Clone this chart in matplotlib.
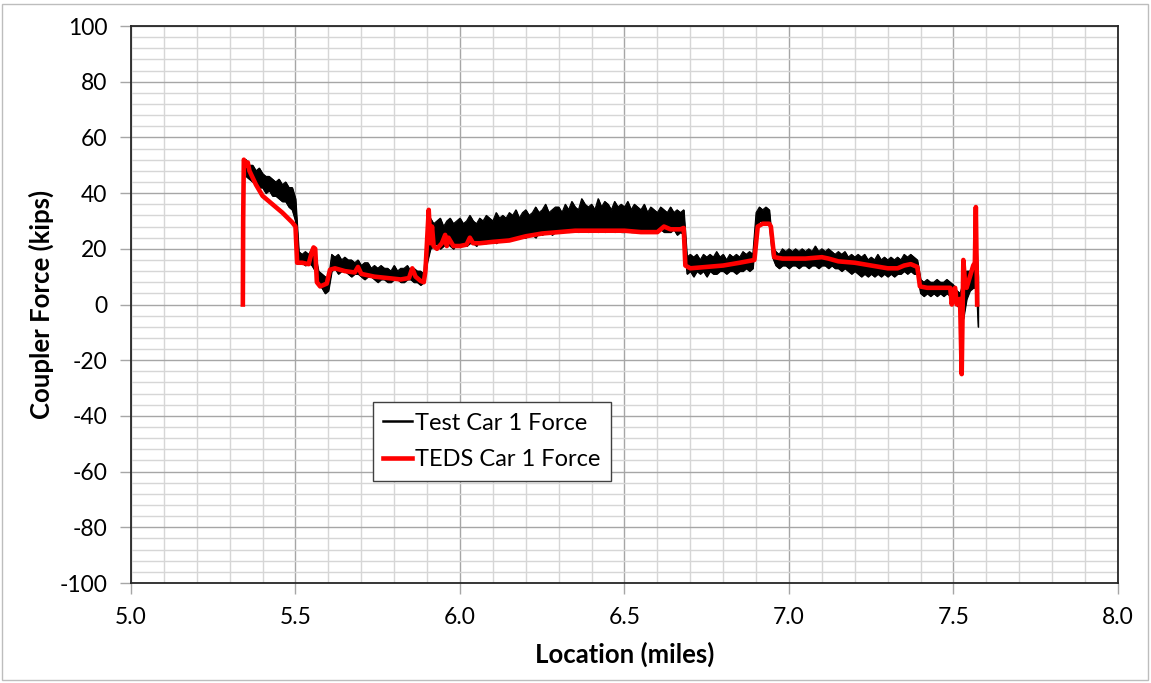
import numpy as np
import matplotlib
matplotlib.use('Agg')
import matplotlib.pyplot as plt
from matplotlib.patches import Rectangle
from matplotlib.lines import Line2D
from matplotlib.ticker import MultipleLocator

plt.rcParams['font.family'] = ['Lato', 'DejaVu Sans']
plt.rcParams['axes.unicode_minus'] = False

# Test car 1 force: noisy measured trace, kept as low/high envelope (kips)
test_loc = [5.35, 5.36, 5.37, 5.38, 5.39, 5.40, 5.41, 5.42, 5.43, 5.44,
            5.45, 5.46, 5.47, 5.48, 5.49, 5.50, 5.51, 5.52, 5.53, 5.54,
            5.55, 5.56, 5.57, 5.58, 5.59, 5.60, 5.61, 5.62, 5.63, 5.64,
            5.65, 5.66, 5.67, 5.68, 5.69, 5.70, 5.71, 5.72, 5.73, 5.74,
            5.75, 5.76, 5.77, 5.78, 5.79, 5.80, 5.81, 5.82, 5.83, 5.84,
            5.85, 5.86, 5.87, 5.88, 5.89, 5.90, 5.91, 5.92, 5.93, 5.94,
            5.95, 5.96, 5.97, 5.98, 5.99, 6.00, 6.01, 6.02, 6.03, 6.04,
            6.05, 6.06, 6.07, 6.08, 6.09, 6.10, 6.11, 6.12, 6.13, 6.14,
            6.15, 6.16, 6.17, 6.18, 6.19, 6.20, 6.21, 6.22, 6.23, 6.24,
            6.25, 6.26, 6.27, 6.28, 6.29, 6.30, 6.31, 6.32, 6.33, 6.34,
            6.35, 6.36, 6.37, 6.38, 6.39, 6.40, 6.41, 6.42, 6.43, 6.44,
            6.45, 6.46, 6.47, 6.48, 6.49, 6.50, 6.51, 6.52, 6.53, 6.54,
            6.55, 6.56, 6.57, 6.58, 6.59, 6.60, 6.61, 6.62, 6.63, 6.64,
            6.65, 6.66, 6.67, 6.68, 6.69, 6.70, 6.71, 6.72, 6.73, 6.74,
            6.75, 6.76, 6.77, 6.78, 6.79, 6.80, 6.81, 6.82, 6.83, 6.84,
            6.85, 6.86, 6.87, 6.88, 6.89, 6.90, 6.91, 6.92, 6.93, 6.94,
            6.95, 6.96, 6.97, 6.98, 6.99, 7.00, 7.01, 7.02, 7.03, 7.04,
            7.05, 7.06, 7.07, 7.08, 7.09, 7.10, 7.11, 7.12, 7.13, 7.14,
            7.15, 7.16, 7.17, 7.18, 7.19, 7.20, 7.21, 7.22, 7.23, 7.24,
            7.25, 7.26, 7.27, 7.28, 7.29, 7.30, 7.31, 7.32, 7.33, 7.34,
            7.35, 7.36, 7.37, 7.38, 7.39, 7.40, 7.41, 7.42, 7.43, 7.44,
            7.45, 7.46, 7.47, 7.48, 7.49, 7.50, 7.51, 7.52, 7.53, 7.54,
            7.55, 7.56, 7.57, 7.575]
test_low = [46, 45, 44, 44, 42, 42, 40, 41, 39, 39,
            38, 37, 37, 35, 34, 30, 15, 15, 14, 15,
            14, 12, 7, 6, 4, 5, 12, 13, 11, 12,
            12, 11, 10, 11, 11, 10, 9, 10, 10, 9,
            8, 9, 9, 8, 8, 9, 9, 8, 8, 9,
            9, 8, 8, 7, 8, 15, 20, 21, 22, 20,
            21, 22, 21, 20, 22, 21, 22, 21, 22, 22,
            21, 23, 22, 22, 23, 23, 22, 23, 23, 24,
            23, 24, 24, 25, 24, 24, 25, 25, 24, 26,
            25, 26, 26, 25, 26, 26, 27, 27, 26, 27,
            27, 26, 27, 27, 26, 27, 27, 26, 27, 26,
            27, 27, 26, 27, 26, 26, 27, 26, 26, 27,
            26, 26, 27, 26, 26, 26, 27, 26, 26, 26,
            27, 25, 26, 25, 11, 12, 10, 12, 11, 12,
            10, 12, 11, 11, 12, 12, 11, 12, 12, 11,
            12, 12, 13, 12, 13, 27, 30, 30, 29, 29,
            17, 14, 13, 14, 14, 13, 14, 14, 13, 14,
            14, 13, 14, 14, 13, 14, 14, 13, 14, 13,
            13, 12, 13, 12, 11, 12, 11, 10, 11, 10,
            11, 10, 11, 10, 11, 10, 11, 10, 11, 11,
            12, 11, 12, 11, 11, 4, 3, 4, 3, 4,
            3, 4, 3, 4, 3, 2, 0, -2, -5, 2,
            5, 6, 6, -8]
test_high = [52, 50, 50, 48, 49, 47, 46, 46, 45, 44,
             45, 43, 44, 42, 42, 38, 19, 18, 19, 18,
             20, 18, 12, 11, 10, 9, 18, 17, 18, 16,
             17, 16, 16, 15, 16, 14, 15, 15, 13, 14,
             13, 14, 13, 13, 12, 14, 12, 13, 13, 14,
             12, 13, 12, 12, 11, 27, 31, 29, 30, 31,
             28, 30, 31, 29, 30, 31, 29, 30, 32, 30,
             29, 31, 30, 32, 31, 30, 33, 31, 32, 31,
             33, 32, 34, 31, 33, 34, 32, 33, 35, 33,
             34, 36, 33, 34, 35, 35, 33, 36, 34, 37,
             35, 34, 38, 36, 35, 36, 34, 38, 35, 37,
             36, 34, 37, 35, 36, 35, 37, 34, 36, 35,
             34, 36, 33, 35, 34, 33, 35, 34, 33, 35,
             33, 34, 33, 34, 17, 18, 17, 18, 16, 18,
             17, 18, 17, 19, 17, 18, 16, 18, 17, 18,
             17, 19, 18, 19, 18, 33, 35, 34, 35, 34,
             21, 19, 18, 20, 19, 20, 19, 20, 19, 20,
             19, 20, 19, 21, 19, 20, 19, 20, 19, 18,
             19, 18, 19, 17, 18, 17, 18, 17, 18, 16,
             17, 16, 18, 16, 17, 16, 17, 16, 17, 16,
             18, 17, 18, 17, 16, 9, 8, 9, 8, 8,
             9, 8, 8, 9, 8, 7, 5, 4, 8, 12,
             12, 14, 22, 10]

# TEDS car 1 force: simulated trace (kips)
teds_loc = [5.340, 5.341, 5.343, 5.350, 5.355, 5.36, 5.38, 5.40, 5.43, 5.46,
            5.49, 5.50, 5.505, 5.52, 5.54, 5.55, 5.555, 5.56, 5.565, 5.575,
            5.585, 5.595, 5.605, 5.62, 5.65, 5.68, 5.69, 5.70, 5.74, 5.78,
            5.82, 5.845, 5.855, 5.865, 5.88, 5.89, 5.895, 5.905, 5.91, 5.915,
            5.92, 5.93, 5.945, 5.955, 5.96, 5.965, 5.98, 6.00, 6.02, 6.03,
            6.04, 6.06, 6.10, 6.15, 6.20, 6.25, 6.30, 6.35, 6.40, 6.45,
            6.50, 6.55, 6.60, 6.62, 6.64, 6.67, 6.68, 6.685, 6.70, 6.75,
            6.80, 6.85, 6.895, 6.905, 6.92, 6.94, 6.945, 6.955, 6.98, 7.05,
            7.10, 7.12, 7.15, 7.20, 7.25, 7.30, 7.33, 7.35, 7.37, 7.39,
            7.398, 7.42, 7.46, 7.49, 7.495, 7.50, 7.505, 7.51, 7.52, 7.525,
            7.53, 7.535, 7.54, 7.55, 7.56, 7.565, 7.568, 7.572]
teds_force = [0, 30, 52, 50, 51, 48, 43, 39, 36, 33,
              29.5, 28, 15, 15, 14.5, 19, 20.5, 20, 8, 6.5,
              7, 7.5, 12.5, 13, 12, 11.5, 13.5, 11, 10, 9.5,
              9, 9.5, 13, 10, 8.5, 8, 12, 34, 22, 28,
              21, 20, 22, 25, 21, 24, 21, 21, 21.5, 24,
              22, 22, 22.5, 23, 24.5, 25.5, 26, 26.5, 26.5, 26.5,
              26.5, 26, 26, 28, 27, 27, 27.5, 14, 13, 13.5,
              14, 15, 16, 28, 29, 29, 28, 17, 16.5, 16.5,
              17, 16.5, 15.5, 15, 14, 13, 13, 14, 14.5, 13.5,
              6.5, 6, 6, 6, 0, 5, 6, 0, 2, -25,
              16, 8, 6, 10, 14, 15, 35, 0]

fig = plt.figure(figsize=(11.51, 6.83), dpi=100)
ax = fig.add_axes([0.1138, 0.1464, 0.8575, 0.8155])

# black band for the measured trace
ax.fill_between(test_loc, test_low, test_high, color='black', lw=0.8, zorder=3)
ax.plot(test_loc, test_high, color='black', lw=0.8, zorder=3)
ax.plot(test_loc, test_low, color='black', lw=0.8, zorder=3)
ax.plot(teds_loc, teds_force, color='#ff0000', lw=3.3, zorder=4)

ax.set_xlim(5.0, 8.0)
ax.set_ylim(-100, 100)
ax.xaxis.set_major_locator(MultipleLocator(0.5))
ax.xaxis.set_minor_locator(MultipleLocator(0.1))
ax.yaxis.set_major_locator(MultipleLocator(20))
ax.yaxis.set_minor_locator(MultipleLocator(4))
ax.xaxis.set_major_formatter(plt.FormatStrFormatter('%.1f'))
ax.yaxis.set_major_formatter(plt.FormatStrFormatter('%d'))

ax.grid(which='major', color='#a6a6a6', lw=1.0, zorder=0)
ax.grid(which='minor', color='#d6d6d6', lw=1.0, zorder=0)
ax.set_axisbelow(True)

ax.tick_params(axis='both', which='major', direction='out', length=8, width=1,
               color='#a6a6a6', labelsize=16.5, pad=9)
ax.tick_params(axis='both', which='minor', length=0)
for s in ax.spines.values():
    s.set_color('#262626')
    s.set_linewidth(1.3)

ax.set_xlabel('Location (miles)', fontsize=18.5, fontweight='bold', labelpad=10)
ax.set_ylabel('Coupler Force (kips)', fontsize=18.5, fontweight='bold', labelpad=4)

handles = [Line2D([], [], color='black', lw=1.8),
           Line2D([], [], color='#ff0000', lw=3.3)]
leg = ax.legend(handles, ['Test Car 1 Force', 'TEDS Car 1 Force'],
                loc='upper left', bbox_to_anchor=(0.245, 0.325), borderaxespad=0,
                fontsize=17, frameon=True, fancybox=False, handlelength=1.2,
                handletextpad=0.15, labelspacing=0.65, borderpad=0.45)
leg.get_frame().set_edgecolor('#404040')
leg.get_frame().set_linewidth(1.0)
leg.get_frame().set_alpha(1.0)

# light outer frame round the whole chart
fig.patches.append(Rectangle((0.002, 0.004), 0.995, 0.99, transform=fig.transFigure,
                             fill=False, edgecolor='#bdbdbd', lw=1.0))

fig.savefig('out.png', dpi=100)
